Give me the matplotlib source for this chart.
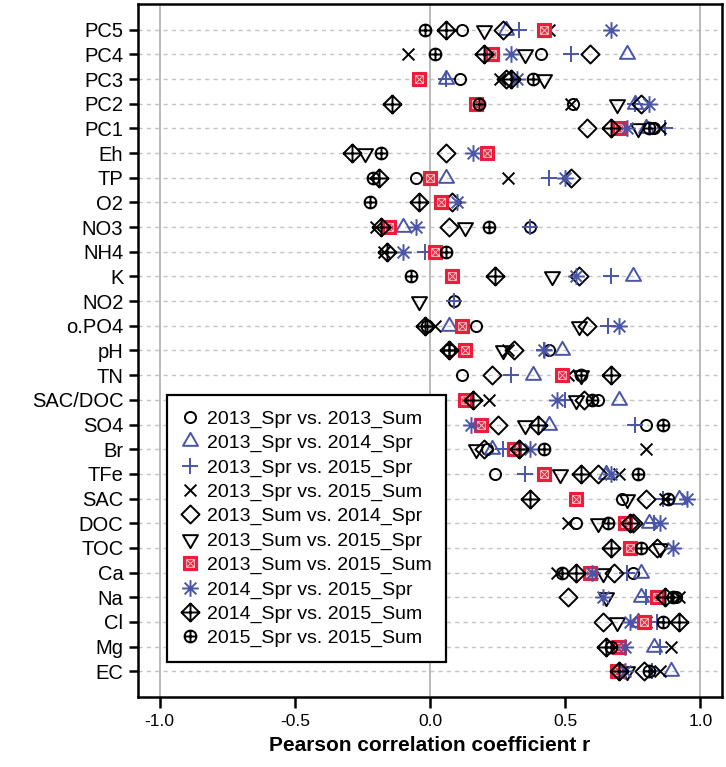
import matplotlib
matplotlib.use("Agg")
import matplotlib.pyplot as plt
import numpy as np
from matplotlib.path import Path
from matplotlib.legend_handler import HandlerTuple

plt.rcParams['font.family'] = ['Liberation Sans', 'DejaVu Sans']

nan = np.nan

variables = ["PC5", "PC4", "PC3", "PC2", "PC1", "Eh", "TP", "O2", "NO3", "NH4",
             "K", "NO2", "o.PO4", "pH", "TN", "SAC/DOC", "SO4", "Br", "TFe", "SAC",
             "DOC", "TOC", "Ca", "Na", "Cl", "Mg", "EC"]

pairs = ["2013_Spr vs. 2013_Sum", "2013_Spr vs. 2014_Spr", "2013_Spr vs. 2015_Spr",
         "2013_Spr vs. 2015_Sum", "2013_Sum vs. 2014_Spr", "2013_Sum vs. 2015_Spr",
         "2013_Sum vs. 2015_Sum", "2014_Spr vs. 2015_Spr", "2014_Spr vs. 2015_Sum",
         "2015_Spr vs. 2015_Sum"]

# correlation coefficients, one list per comparison, same order as variables
r_spr13_sum13 = [0.12, 0.41, 0.11, 0.53, 0.83, nan, -0.05, nan, 0.37, nan,
                 nan, 0.09, 0.17, 0.44, 0.12, 0.62, 0.80, 0.21, 0.24, 0.71,
                 0.54, nan, 0.75, 0.91, nan, nan, nan]
r_spr13_spr14 = [0.28, 0.73, 0.06, 0.76, 0.80, nan, 0.06, nan, -0.10, nan,
                 0.75, nan, 0.07, 0.49, 0.38, 0.70, 0.44, 0.23, 0.65, 0.92,
                 0.81, nan, 0.78, 0.78, 0.77, 0.83, 0.89]
r_spr13_spr15 = [0.33, 0.52, 0.06, 0.76, 0.87, nan, 0.44, nan, 0.37, -0.02,
                 0.67, 0.09, 0.66, 0.42, 0.30, 0.50, 0.76, 0.27, 0.35, 0.86,
                 0.83, nan, 0.73, 0.80, 0.84, 0.85, 0.82]
r_spr13_sum15 = [0.44, -0.08, 0.26, 0.52, 0.85, nan, 0.29, nan, -0.20, -0.17,
                 nan, nan, 0.02, 0.29, 0.51, 0.22, nan, 0.80, 0.70, 0.87,
                 0.51, nan, 0.47, 0.92, 0.80, 0.89, 0.85]
r_sum13_spr14 = [0.27, 0.59, 0.28, 0.78, 0.58, 0.06, 0.52, 0.08, 0.07, nan,
                 0.55, nan, 0.58, 0.31, 0.23, 0.57, 0.25, 0.20, 0.62, 0.80,
                 0.75, 0.84, 0.68, 0.51, 0.64, nan, 0.79]
r_sum13_spr15 = [0.20, 0.35, 0.42, 0.69, 0.77, -0.24, nan, nan, 0.13, nan,
                 0.45, -0.04, 0.55, 0.27, 0.56, 0.54, 0.35, 0.17, 0.48, 0.73,
                 0.62, 0.85, 0.64, 0.65, 0.69, nan, 0.73]
r_sum13_sum15 = [0.42, 0.23, -0.04, 0.17, 0.70, 0.21, 0.00, 0.04, -0.15, 0.02,
                 0.08, nan, 0.12, 0.13, 0.49, 0.13, 0.19, 0.31, 0.42, 0.54,
                 0.72, 0.74, 0.59, 0.84, 0.79, 0.70, 0.69]
r_spr14_spr15 = [0.67, 0.30, 0.32, 0.81, 0.73, 0.16, 0.50, 0.10, -0.05, -0.10,
                 0.54, nan, 0.70, 0.42, nan, 0.47, 0.15, 0.37, 0.67, 0.95,
                 0.85, 0.90, 0.60, 0.64, 0.74, 0.72, 0.72]
r_spr14_sum15 = [0.06, 0.20, 0.30, -0.14, 0.67, -0.29, -0.19, -0.04, -0.18, -0.16,
                 0.24, nan, -0.02, 0.07, 0.67, 0.16, 0.40, 0.33, 0.56, 0.37,
                 0.74, 0.67, 0.54, 0.87, 0.92, 0.65, 0.70]
r_spr15_sum15 = [-0.02, 0.02, 0.38, 0.18, 0.81, -0.18, -0.21, -0.22, 0.22, 0.06,
                 -0.07, nan, -0.01, 0.07, 0.56, 0.60, 0.86, 0.42, 0.77, 0.88,
                 0.66, 0.78, 0.49, 0.90, 0.86, 0.67, 0.81]

series = [r_spr13_sum13, r_spr13_spr14, r_spr13_spr15, r_spr13_sum15, r_sum13_spr14,
          r_sum13_spr15, r_sum13_sum15, r_spr14_spr15, r_spr14_sum15, r_spr15_sum15]

# R-style plotting symbols
M, L = Path.MOVETO, Path.LINETO
circle = Path.unit_circle()
plus = Path([(-1, 0), (1, 0), (0, -1), (0, 1)], [M, L, M, L])
cross = Path([(-1, -1), (1, 1), (-1, 1), (1, -1)], [M, L, M, L])
diamond = Path([(0, 1), (1, 0), (0, -1), (-1, 0), (0, 1)], [M, L, L, L, Path.CLOSEPOLY])
tri_up = Path([(0, 1), (0.866, -0.5), (-0.866, -0.5), (0, 1)], [M, L, L, Path.CLOSEPOLY])
tri_dn = Path([(0, -1), (0.866, 0.5), (-0.866, 0.5), (0, -1)], [M, L, L, Path.CLOSEPOLY])
d = 0.707
asterisk = Path([(-1, 0), (1, 0), (0, -1), (0, 1), (-d, -d), (d, d), (-d, d), (d, -d)],
                [M, L, M, L, M, L, M, L])
diamond_plus = Path.make_compound_path(diamond, plus)
circle_plus = Path.make_compound_path(circle, plus)
box_x = Path([(-1, -1), (1, -1), (1, 1), (-1, 1), (-1, -1), (-1, -1), (1, 1), (-1, 1), (1, -1)],
             [M, L, L, L, L, M, L, M, L])

blue = "#4a55a8"
red = "#ec1c3a"
styles = [
    dict(marker=circle, ms=8.0, mec="black"),
    dict(marker=tri_up, ms=12.5, mec=blue),
    dict(marker=plus, ms=12.0, mec=blue),
    dict(marker=cross, ms=8.5, mec="black"),
    dict(marker=diamond, ms=13.0, mec="black"),
    dict(marker=tri_dn, ms=12.5, mec="black"),
    None,
    dict(marker=asterisk, ms=12.0, mec=blue),
    dict(marker=diamond_plus, ms=13.0, mec="black"),
    dict(marker=circle_plus, ms=8.5, mec="black"),
]

ypos = np.arange(len(variables), 0, -1)

fig = plt.figure(figsize=(7.26, 7.67), dpi=100)
ax = fig.add_axes([0.190, 0.0913, 0.8045, 0.9035])

for yy in ypos:
    ax.axhline(yy, color="#c4c4c4", lw=1.0, ls=(0, (3, 3)), zorder=0)
for xx in (-1, 0, 1):
    ax.axvline(xx, color="#b4b4b4", lw=1.3, zorder=0)

handles = []
for vals, st in zip(series, styles):
    if st is None:
        h1, = ax.plot(vals, ypos, ls="none", marker="s", ms=9.5, mfc=red, mec=red, mew=0.8)
        h2, = ax.plot(vals, ypos, ls="none", marker=box_x, ms=5.5, mfc="none",
                      mec="#f6c4c8", mew=0.7)
        handles.append((h1, h2))
    else:
        h, = ax.plot(vals, ypos, ls="none", mfc="none", mew=1.4, **st)
        handles.append(h)

ax.set_xlim(-1.08, 1.08)
ax.set_ylim(-0.04, len(variables) + 1.04)
ax.set_yticks(ypos)
ax.set_yticklabels(variables)
ax.set_xticks([-1.0, -0.5, 0.0, 0.5, 1.0])
ax.set_xticklabels(["-1.0", "-0.5", "0.0", "0.5", "1.0"])
ax.tick_params(axis="y", length=6.5, width=1.8, labelsize=14.5, pad=4)
ax.tick_params(axis="x", length=8, width=1.8, labelsize=12.5, pad=4, colors="black")
ax.set_xlabel("Pearson correlation coefficient r", fontsize=15, fontweight="bold", labelpad=5)
for sp in ax.spines.values():
    sp.set_linewidth(1.8)

leg = ax.legend(handles, pairs, loc="lower left", bbox_to_anchor=(0.0497, 0.0505),
                borderaxespad=0, fontsize=14, frameon=True, fancybox=False,
                edgecolor="black", framealpha=1, labelspacing=0.34, handlelength=0.9,
                handletextpad=0.4, borderpad=0.75,
                handler_map={tuple: HandlerTuple(ndivide=1, pad=0)})
leg.get_frame().set_linewidth(1.6)

fig.savefig("out.png", dpi=100)
